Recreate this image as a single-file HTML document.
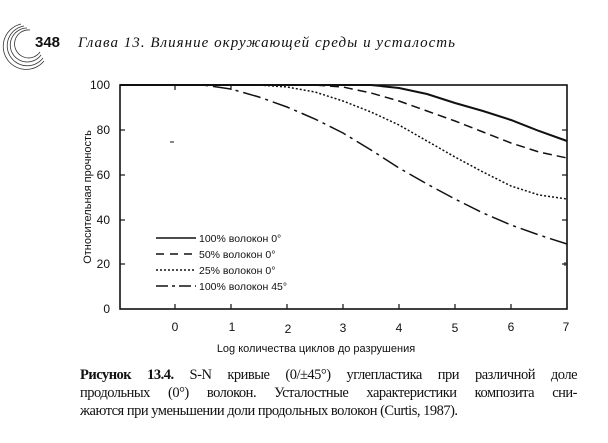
<!DOCTYPE html>
<html><head><meta charset="utf-8"><style>
body{margin:0;background:#fff;width:608px;height:443px;overflow:hidden;position:relative;font-family:"Liberation Sans",sans-serif}
.cap{position:absolute;left:80px;width:497px;font-family:"Liberation Serif",serif;font-size:14.5px;line-height:18px;text-align:justify;text-align-last:justify;color:#111;white-space:nowrap;letter-spacing:-0.5px}
</style></head><body>
<svg width="608" height="443" style="position:absolute;left:0;top:0" font-family="Liberation Sans, sans-serif" fill="#111">
<g fill="none" stroke="#333" stroke-width="0.8">
<path d="M30 30 A14 14 0 1 0 40 52"/><path d="M27 28 A17 17 0 1 0 41 55"/><path d="M24 26 A20 20 0 1 0 43 58"/><path d="M21 24 A23 23 0 1 0 44 61"/>
</g>
<text x="35" y="47" font-size="15" font-weight="bold">348</text>
<text x="78" y="47" font-size="15" font-style="italic" font-family="Liberation Serif, serif" textLength="377" lengthAdjust="spacing">Глава 13. Влияние окружающей среды и усталость</text>
<rect x="120" y="85" width="447" height="224" fill="none" stroke="#111" stroke-width="1.6"/>
<g stroke="#111" stroke-width="1.2">
<line x1="120" y1="130" x2="125" y2="130"/><line x1="120" y1="175" x2="125" y2="175"/><line x1="120" y1="220" x2="125" y2="220"/><line x1="120" y1="264" x2="125" y2="264"/>
<line x1="562" y1="130" x2="567" y2="130"/><line x1="562" y1="175" x2="567" y2="175"/><line x1="562" y1="220" x2="567" y2="220"/><line x1="562" y1="264" x2="567" y2="264"/>
<line x1="175" y1="309" x2="175" y2="304"/><line x1="231" y1="309" x2="231" y2="304"/><line x1="287" y1="309" x2="287" y2="304"/><line x1="343" y1="309" x2="343" y2="304"/><line x1="399" y1="309" x2="399" y2="304"/><line x1="455" y1="309" x2="455" y2="304"/><line x1="511" y1="309" x2="511" y2="304"/>
<line x1="175" y1="85" x2="175" y2="90"/><line x1="231" y1="85" x2="231" y2="90"/>
</g>
<g font-size="12" text-anchor="end">
<text x="110" y="89">100</text><text x="110" y="134">80</text><text x="110" y="179">60</text><text x="110" y="224">40</text><text x="110" y="268">20</text><text x="110" y="313">0</text>
</g>
<g font-size="12" text-anchor="middle">
<text x="175" y="331">0</text><text x="232" y="331">1</text><text x="288" y="333">2</text><text x="343" y="332">3</text><text x="399" y="332">4</text><text x="455" y="332">5</text><text x="511" y="331">6</text><text x="566" y="331">7</text>
</g>
<text x="316" y="352" font-size="11" text-anchor="middle">Log количества циклов до разрушения</text>
<text transform="translate(91,197) rotate(-90)" font-size="11" text-anchor="middle">Относительная прочность</text>
<g fill="none" stroke="#111" stroke-width="1.5">
<polyline points="120,85 371,85 399,88 427,94 455,103 483,111 511,120 539,131 567,141" stroke-width="2"/>
<polyline stroke-dasharray="9,5" points="120,85 315,85 343,87 371,93 399,101 427,111 455,121 483,132 511,143 539,152 567,158"/>
<polyline stroke-dasharray="2,2" points="120,85 259,85 287,87 315,92 343,101 371,112 399,125 427,141 455,157 483,172 511,186 539,195 567,199"/>
<polyline stroke-dasharray="18,5,3,5" points="120,85 203,85 231,89 259,97 287,107 315,119 343,133 371,150 399,168 427,184 455,199 483,213 511,225 539,235 567,244"/>
<line x1="156" y1="238" x2="196" y2="238" stroke-width="1.5"/>
<line x1="156" y1="254" x2="196" y2="254" stroke-dasharray="8,6"/>
<line x1="156" y1="270" x2="196" y2="270" stroke-dasharray="2,2"/>
<line x1="156" y1="286" x2="196" y2="286" stroke-dasharray="12,4,3,4"/>
<line x1="170" y1="142" x2="174" y2="142" stroke-width="1"/>
<line x1="565" y1="262" x2="565" y2="266" stroke-width="1"/>
</g>
<g font-size="10.5">
<text x="199" y="242">100% волокон 0°</text>
<text x="199" y="258">50% волокон 0°</text>
<text x="199" y="274">25% волокон 0°</text>
<text x="199" y="290">100% волокон 45°</text>
</g>
</svg>
<div class="cap" style="top:366px"><b>Рисунок 13.4.</b> S-N кривые (0/±45°) углепластика при различной доле</div>
<div class="cap" style="top:384px">продольных (0°) волокон. Усталостные характеристики композита сни-</div>
<div class="cap" style="top:402px;width:auto;text-align-last:auto">жаются при уменьшении доли продольных волокон (Curtis, 1987).</div>
</body></html>
